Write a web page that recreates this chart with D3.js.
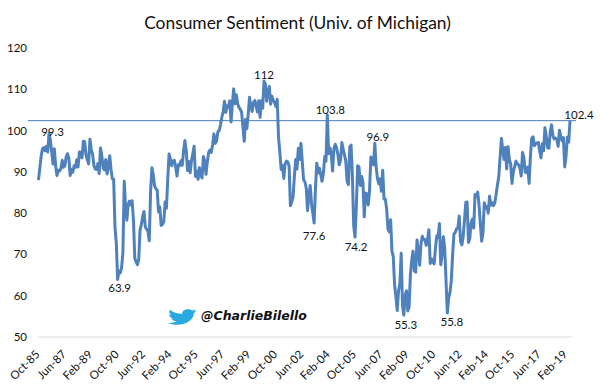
<!DOCTYPE html>
<html>
<head>
<meta charset="utf-8">
<script src="https://cdn.jsdelivr.net/npm/d3@7"></script>
<style>
  body { margin: 0; background: #fff; }
  text { font-family: Lato, "Open Sans", sans-serif; fill: #111; }
</style>
</head>
<body>
<div id="chart"></div>
<script>
var sentiment = [
  88.0, 90.9, 93.7,
  95.6, 95.9, 95.1, 96.2, 94.8, 99.3, 97.7, 94.9, 91.9, 95.6, 91.4, 89.1,
  90.4, 90.2, 90.8, 92.8, 91.1, 91.5, 93.7, 94.4, 93.3, 89.1, 90.6, 89.9,
  91.5, 91.1, 92.9, 91.2, 94.8, 94.7, 93.4, 97.4, 97.3, 94.1, 93.0, 91.9,
  97.9, 95.4, 94.3, 91.5, 90.7, 90.6, 92.0, 89.6, 95.8, 93.9, 90.9, 90.5,
  93.0, 89.5, 91.3, 93.9, 90.6, 88.3, 88.2, 76.4, 72.8, 63.9, 66.0, 65.5,
  66.8, 70.4, 87.7, 81.8, 78.3, 82.1, 82.9, 82.0, 83.0, 78.3, 69.1, 68.2,
  67.5, 68.8, 76.0, 77.2, 79.2, 80.4, 76.6, 76.1, 75.6, 73.3, 85.3, 91.0,
  89.3, 86.6, 85.9, 85.6, 80.3, 81.5, 77.0, 77.3, 77.9, 82.7, 81.2, 88.2,
  94.3, 93.2, 91.5, 92.6, 92.8, 91.2, 89.0, 91.7, 91.5, 92.7, 91.6, 95.1,
  97.6, 95.1, 90.3, 92.5, 89.8, 92.7, 94.4, 96.2, 88.9, 90.2, 88.2, 91.0,
  89.3, 88.5, 93.7, 92.7, 89.4, 92.4, 94.7, 95.3, 94.7, 96.5, 99.2, 96.9,
  97.4, 99.7, 100.0, 101.4, 103.2, 104.5, 107.1, 104.4, 106.0, 105.6, 107.2, 102.1,
  106.6, 110.1, 106.5, 108.7, 106.5, 105.6, 105.2, 104.4, 100.9, 97.4, 102.7, 100.5,
  103.9, 108.1, 105.7, 104.6, 106.8, 107.3, 106.0, 104.5, 107.2, 103.2, 107.2, 105.4,
  112.0, 111.3, 107.1, 109.2, 110.7, 106.4, 108.3, 107.3, 106.8, 105.8, 107.6, 98.4,
  94.7, 90.6, 91.5, 88.4, 92.0, 92.6, 92.4, 91.5, 81.8, 82.7, 83.9, 88.8,
  93.0, 90.7, 95.7, 93.0, 96.9, 92.4, 88.1, 87.6, 86.1, 80.6, 84.2, 86.7,
  82.4, 79.9, 77.6, 86.0, 92.1, 89.7, 90.9, 89.3, 87.7, 89.6, 93.7, 92.6,
  103.8, 94.4, 95.8, 94.2, 90.2, 95.6, 96.7, 95.9, 94.2, 91.7, 92.8, 97.1,
  95.5, 94.1, 92.6, 87.7, 86.9, 96.0, 96.5, 89.1, 76.9, 74.2, 81.6, 91.5,
  91.2, 86.7, 88.9, 87.4, 79.1, 84.9, 84.7, 82.0, 85.4, 93.6, 92.1, 91.7,
  96.9, 91.3, 88.4, 87.1, 88.3, 85.3, 90.4, 83.4, 83.4, 80.9, 76.1, 75.5,
  78.4, 70.8, 69.5, 62.6, 59.8, 56.4, 61.2, 63.0, 70.3, 57.6, 55.3, 60.1,
  61.2, 56.3, 57.3, 65.1, 68.7, 70.8, 66.0, 65.7, 73.5, 70.6, 67.4, 72.5,
  74.4, 73.6, 73.6, 72.2, 73.6, 76.0, 67.8, 68.9, 68.2, 67.7, 71.6, 74.5,
  74.2, 77.5, 67.5, 69.8, 74.3, 71.5, 63.7, 55.8, 59.5, 60.8, 63.7, 69.9,
  75.0, 75.3, 76.2, 76.4, 79.3, 73.2, 72.3, 74.3, 78.3, 82.6, 82.7, 72.9,
  73.8, 77.6, 78.6, 76.4, 84.5, 84.1, 85.1, 82.1, 77.5, 73.2, 75.1, 82.5,
  81.2, 81.6, 80.0, 84.1, 81.9, 82.5, 81.8, 82.5, 84.6, 86.9, 88.8, 93.6,
  98.1, 95.4, 93.0, 95.9, 90.7, 96.1, 93.1, 91.9, 87.2, 90.0, 91.3, 92.6,
  92.0, 91.7, 91.0, 89.0, 94.7, 93.5, 90.0, 89.8, 91.2, 87.2, 93.8, 98.2,
  98.5, 96.3, 96.9, 97.0, 97.1, 95.0, 93.4, 96.8, 95.1, 100.7, 98.5, 95.9,
  95.7, 99.7, 101.4, 98.8, 98.0, 98.2, 97.9, 96.2, 100.1, 98.6, 97.5, 98.3,
  91.2, 93.8, 98.4, 97.2, 102.4
];
var tickLabels = ["Oct-85", "Jun-87", "Feb-89", "Oct-90", "Jun-92", "Feb-94", "Oct-95", "Jun-97", "Feb-99", "Oct-00",
  "Jun-02", "Feb-04", "Oct-05", "Jun-07", "Feb-09", "Oct-10", "Jun-12", "Feb-14", "Oct-15", "Jun-17", "Feb-19"];
var tickStep = 20;
var yTicks = [50, 60, 70, 80, 90, 100, 110, 120];
var referenceLevel = 102.4;
// index into sentiment, label text, offset of the label from the point
var callouts = [
  [8, "99.3", 3.5, 3],
  [60, "63.9", 2, 12],
  [171, "112", 0, -2],
  [219, "103.8", 3, -1],
  [209, "77.6", 0, 17],
  [240, "74.2", 1, 14],
  [255, "96.9", 3, -2],
  [277, "55.3", 2, 14],
  [310, "55.8", 4.5, 13],
  [403, "102.4", 9, -2]
];

var width = 601, height = 384;
var svg = d3.select("#chart").append("svg")
    .attr("width", width)
    .attr("height", height);

var x = d3.scaleLinear()
    .domain([0, sentiment.length - 1])
    .range([38.5, 570]);

var y = d3.scaleLinear()
    .domain([50, 120])
    .range([337, 48]);

svg.append("text")
    .attr("x", 297.5)
    .attr("y", 29)
    .attr("text-anchor", "middle")
    .style("font-size", "17.4px")
    .text("Consumer Sentiment (Univ. of Michigan)");

// y labels only, no gridlines in the original
svg.selectAll(".y-label")
    .data(yTicks)
  .enter().append("text")
    .attr("class", "y-label")
    .attr("x", 27)
    .attr("y", function(d) { return y(d); })
    .attr("dy", ".35em")
    .attr("text-anchor", "end")
    .style("font-size", "11.5px")
    .text(function(d) { return d; });

svg.append("line")
    .attr("x1", x.range()[0])
    .attr("x2", 572)
    .attr("y1", y(50))
    .attr("y2", y(50))
    .style("stroke", "#d9d9d9")
    .style("stroke-width", 1);

svg.selectAll(".x-label")
    .data(tickLabels)
  .enter().append("text")
    .attr("class", "x-label")
    .attr("text-anchor", "end")
    .attr("transform", function(d, i) { return "translate(" + (x(i * tickStep) + 2) + ",355) rotate(-45)"; })
    .style("font-size", "11.5px")
    .text(function(d) { return d; });

svg.append("line")
    .attr("x1", 28)
    .attr("x2", 576)
    .attr("y1", y(referenceLevel))
    .attr("y2", y(referenceLevel))
    .style("stroke", "#4a7ebb")
    .style("stroke-width", 1);

var line = d3.line()
    .x(function(d, i) { return x(i); })
    .y(function(d) { return y(d); });

svg.append("path")
    .datum(sentiment)
    .attr("d", line)
    .style("fill", "none")
    .style("stroke", "#4f81bd")
    .style("stroke-width", 3)
    .style("stroke-linejoin", "round");

svg.selectAll(".callout")
    .data(callouts)
  .enter().append("text")
    .attr("class", "callout")
    .attr("x", function(d) { return x(d[0]) + d[2]; })
    .attr("y", function(d) { return y(sentiment[d[0]]) + d[3]; })
    .attr("text-anchor", "middle")
    .style("font-size", "11.5px")
    .text(function(d) { return d[1]; });

// twitter bird
svg.append("path")
    .attr("transform", "translate(168,307.3) scale(1.2,0.8)")
    .attr("d", "M24 4.6c-.9.4-1.8.7-2.8.8 1-.6 1.8-1.6 2.2-2.7-1 .6-2 1-3.1 1.2-.9-1-2.2-1.6-3.6-1.6-2.7 0-4.9 2.2-4.9 4.9 0 .4 0 .8.1 1.1C7.7 8.1 4.1 6.1 1.7 3.1c-.4.7-.7 1.6-.7 2.5 0 1.7.9 3.2 2.2 4.1-.8 0-1.6-.2-2.2-.6v.1c0 2.4 1.7 4.4 3.9 4.8-.4.1-.8.2-1.3.2-.3 0-.6 0-.9-.1.6 2 2.4 3.4 4.6 3.4-1.7 1.3-3.8 2.1-6.1 2.1-.4 0-.8 0-1.2-.1 2.2 1.4 4.8 2.2 7.5 2.2 9.1 0 14-7.5 14-14v-.6c1-.7 1.8-1.6 2.5-2.5z")
    .style("fill", "#2aa9e0");

svg.append("text")
    .attr("x", 201)
    .attr("y", 320)
    .style("font-family", "'DejaVu Sans'")
    .style("font-style", "italic")
    .style("font-weight", "bold")
    .style("font-size", "12.5px")
    .text("@CharlieBilello");
</script>
</body>
</html>
